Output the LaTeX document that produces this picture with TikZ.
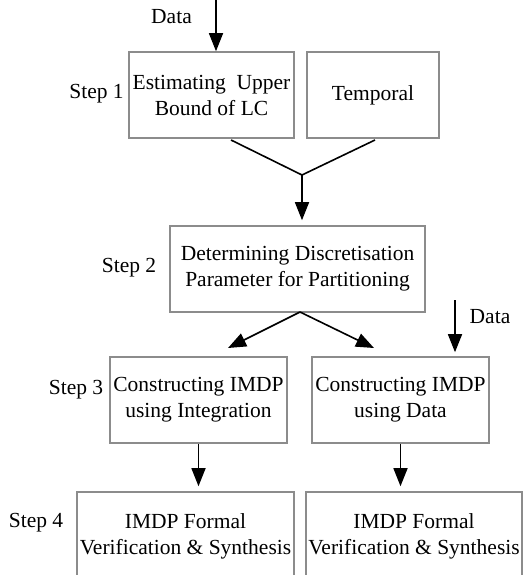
\documentclass[tikz,border=0pt]{standalone}
\usepackage{fontspec}
\setmainfont{Liberation Serif}
\usetikzlibrary{arrows.meta}

\tikzset{
  stepbox/.style={draw=black!45, line width=1.6pt, inner sep=0pt, align=center,
    font=\fontsize{21.5}{26}\selectfont},
  lbl/.style={inner sep=0pt, font=\fontsize{21.5}{26}\selectfont},
  arr/.style={draw=black, line width=1.6pt, -{Triangle[length=18pt,width=14pt]}},
  ln/.style={draw=black, line width=1.6pt},
}

\begin{document}
\begin{tikzpicture}[x=1pt, y=-1pt]
  \clip (0,0) rectangle (526,575);

  % Step 1
  \node[stepbox, minimum width=165pt, minimum height=86pt] (ub) at (211.5,95)
    {Estimating\ \ Upper\\Bound of LC};
  \node[stepbox, minimum width=132pt, minimum height=86pt] (tmp) at (373,95) {Temporal};
  % Step 2
  \node[stepbox, minimum width=255pt, minimum height=86pt] (disc) at (297.5,269)
    {Determining Discretisation\\Parameter for Partitioning};
  % Step 3
  \node[stepbox, minimum width=177pt, minimum height=86pt] (ci) at (198.5,400)
    {Constructing IMDP\\using Integration};
  \node[stepbox, minimum width=177pt, minimum height=86pt] (cd) at (400.5,400)
    {Constructing IMDP\\using Data};
  % Step 4
  \node[stepbox, minimum width=217pt, minimum height=88pt] (vl) at (185.5,536)
    {IMDP Formal\\Verification \& Synthesis};
  \node[stepbox, minimum width=216pt, minimum height=88pt] (vr) at (414,536)
    {IMDP Formal\\Verification \& Synthesis};

  % labels
  \node[lbl] (s1) at (96.5,94) {Step 1};
  \node[lbl] (s2) at (129,268) {Step 2};
  \node[lbl] (s3) at (76,390) {Step 3};
  \node[lbl] (s4) at (36,523) {Step 4};
  \node[lbl] (data1) at (171.5,17) {Data};
  \node[lbl] (data2) at (490,317) {Data};

  % connector end points
  \coordinate (in1) at (216,0);
  \coordinate (a1) at (231,140);
  \coordinate (a2) at (375,140);
  \coordinate (m) at (302,175);
  \coordinate (in2) at (455,300);
  \coordinate (sp) at (300,312);
  \coordinate (tl) at (228,348);
  \coordinate (tr) at (374,348);

  % connectors
  \draw[arr] (in1) -- (in1 |- ub.north);
  \draw[ln] (a1) -- (m) -- (a2);
  \draw[arr, shorten >=5pt] (m) -- (m |- disc.north);
  \draw[arr] (sp) -- (tl);
  \draw[arr] (sp) -- (tr);
  \draw[arr, shorten >=4pt] (in2) -- (in2 |- cd.north);
  \draw[arr, shorten >=5pt] (ci.south) -- (ci.south |- vl.north);
  \draw[arr, shorten >=5pt] (cd.south) -- (cd.south |- vr.north);
\end{tikzpicture}
\end{document}
